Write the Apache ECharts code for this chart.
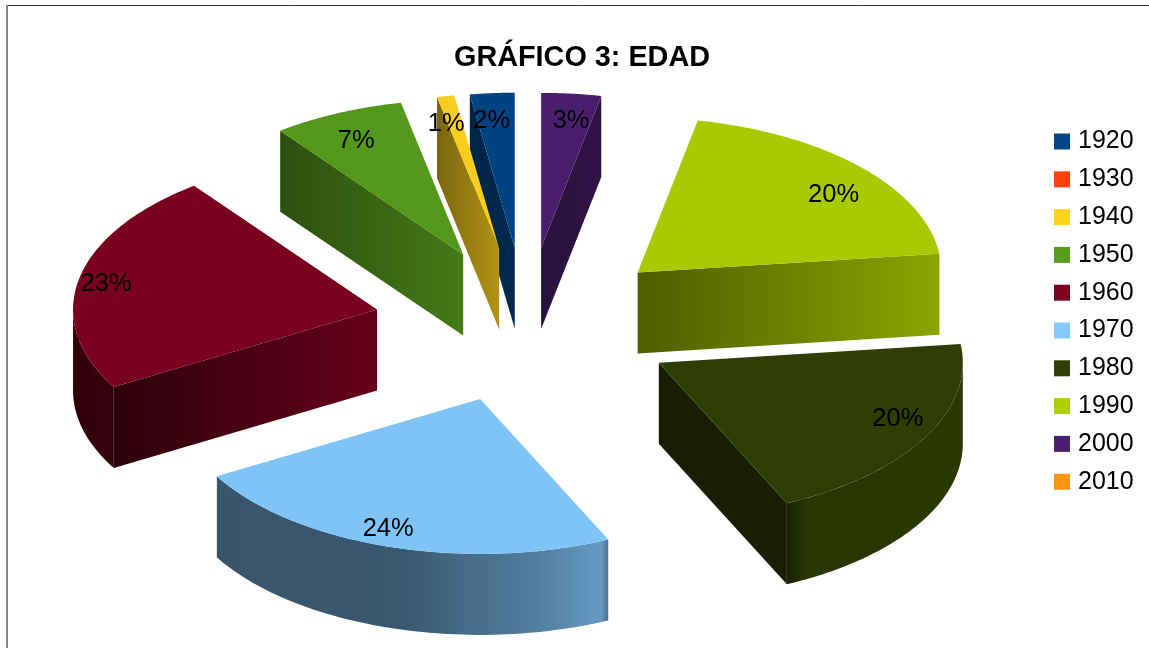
<!DOCTYPE html>
<html>
<head>
<meta charset="utf-8">
<style>
    html, body { margin: 0; padding: 0; background: #fff; }
    #chart { width: 1149px; height: 648px; }
</style>
<script src="https://cdn.jsdelivr.net/npm/echarts@6/dist/echarts.min.js"></script>
</head>
<body>
<div id="chart"></div>
<script>
var titleText = 'GRÁFICO 3: EDAD';
var decades = ['1920', '1930', '1940', '1950', '1960', '1970', '1980', '1990', '2000', '2010'];
var shares = [2.36, 0, 0.92, 7, 23.05, 23.59, 20, 19.91, 3.17, 0];
var colors = ['#004586', '#ff420e', '#ffd320', '#579d1c', '#7e0021', '#83caff', '#314004', '#aecf00', '#4b1f6f', '#ff950e'];

// pie geometry
var cx = 526, cy = 325, rx = 304, ry = 155, depth = 81, explode = 0.5;
var fontName = '"Liberation Sans", Arial, sans-serif';

// where each label sits relative to the tip of its slice
var labelOffset = [[-23, -126.5], null, [-53, -125], [-107, -113.5], [-271, -25.5], [-92, 130], [239, 56.5], [196, -77.5], [30, -127], null];
// brightness of the cut face, left and right end
var cutShade = [[0.52, 0.6], null, [0.48, 0.7], [0.5, 0.78], [0.35, 0.8], null, [0.47, 0.47], [0.45, 0.8], [0.55, 0.62], null];
// brightness of the rim by angle (degrees counterclockwise from 12 o'clock)
var rimShade = [[90, 0.36], [120, 0.42], [165, 0.44], [190, 0.62], [204.5, 0.78], [205, 0.5], [209, 0.86], [276, 0.88]];

var total = shares.reduce(function (a, b) { return a + b; }, 0);

function startOf(index) {
    var sum = 0;
    for (var i = 0; i < index; i++) sum += shares[i];
    return sum / total * 360;
}

function shade(hex, k) {
    var n = parseInt(hex.slice(1), 16);
    var r = Math.round((n >> 16 & 255) * k);
    var g = Math.round((n >> 8 & 255) * k);
    var b = Math.round((n & 255) * k);
    return 'rgb(' + r + ',' + g + ',' + b + ')';
}

function rimAt(deg) {
    for (var i = 1; i < rimShade.length; i++) {
        if (deg <= rimShade[i][0]) {
            var p = rimShade[i - 1], q = rimShade[i];
            var t = Math.max(0, (deg - p[0]) / (q[0] - p[0]));
            return p[1] + (q[1] - p[1]) * t;
        }
    }
    return rimShade[rimShade.length - 1][1];
}

function pointOn(apex, deg, scale) {
    var t = deg * Math.PI / 180;
    return [apex[0] - Math.sin(t) * rx * scale, apex[1] - Math.cos(t) * ry * scale];
}

function apexOf(start, end) {
    return pointOn([cx, cy], (start + end) / 2, explode);
}

function drop(p) {
    return [p[0], p[1] + depth];
}

function sideFace(top, fill) {
    var pts = top.concat(top.slice().reverse().map(drop));
    return { type: 'polygon', shape: { points: pts }, style: { fill: fill }, silent: true };
}

function cutFace(a, b, index) {
    var s = cutShade[index] || [0.5, 0.5];
    var fill = new echarts.graphic.LinearGradient(0, 0, 1, 0, [
        { offset: 0, color: shade(colors[index], s[0]) },
        { offset: 1, color: shade(colors[index], s[1]) }
    ]);
    return sideFace([a, b], fill);
}

function renderSlice(params, api) {
    var value = api.value(0);
    if (!value) return null;
    var index = params.seriesIndex;
    var start = startOf(index), end = start + value / total * 360;
    var apex = apexOf(start, end);
    var children = [];

    // the front part of the rim
    var from = Math.max(start, 90), to = Math.min(end, 270);
    if (to > from) {
        var rim = [], stops = [], steps = 60;
        for (var i = 0; i <= steps; i++) {
            rim.push(pointOn(apex, from + (to - from) * i / steps, 1));
        }
        var minX = Math.min.apply(null, rim.map(function (p) { return p[0]; }));
        var maxX = Math.max.apply(null, rim.map(function (p) { return p[0]; }));
        rim.forEach(function (p, i) {
            stops.push({
                offset: (p[0] - minX) / (maxX - minX),
                color: shade(colors[index], rimAt(from + (to - from) * i / steps))
            });
        });
        children.push(sideFace(rim, new echarts.graphic.LinearGradient(0, 0, 1, 0, stops)));
    }

    // cut faces that look towards the viewer
    var first = pointOn(apex, start, 1), last = pointOn(apex, end, 1);
    if (first[0] > apex[0]) children.push(cutFace(apex, first, index));
    if (last[0] < apex[0]) children.push(cutFace(last, apex, index));

    // top of the slice
    var top = [apex];
    for (var d = 0; d <= 60; d++) {
        top.push(pointOn(apex, start + (end - start) * d / 60, 1));
    }
    children.push({
        type: 'polygon',
        shape: { points: top },
        style: { fill: shade(colors[index], 0.97) },
        silent: true
    });

    return { type: 'group', children: children };
}

function renderLabel(params, api) {
    var index = api.value(0), value = api.value(1);
    if (!value) return null;
    var start = startOf(index), end = start + value / total * 360;
    var apex = apexOf(start, end);
    return {
        type: 'text',
        silent: true,
        style: {
            text: Math.round(value / total * 100) + '%',
            x: apex[0] + labelOffset[index][0],
            y: apex[1] + labelOffset[index][1],
            align: 'center',
            verticalAlign: 'middle',
            font: '25.5px ' + fontName,
            fill: '#000'
        }
    };
}

var series = decades.map(function (name, i) {
    return {
        type: 'custom',
        name: name,
        coordinateSystem: 'none',
        renderItem: renderSlice,
        itemStyle: { color: colors[i] },
        z: 2 + i,
        data: [[shares[i]]]
    };
});

series.push({
    type: 'custom',
    name: 'labels',
    coordinateSystem: 'none',
    renderItem: renderLabel,
    z: 30,
    data: shares.map(function (v, i) { return [i, v]; })
});

var chart = echarts.init(document.getElementById('chart'), null, { renderer: 'canvas' });

chart.setOption({
    animation: false,
    backgroundColor: '#fff',
    title: {
        text: titleText,
        left: 577,
        top: 38,
        textAlign: 'center',
        textStyle: { fontFamily: fontName, fontWeight: 'bold', fontSize: 28.8, color: '#000', lineHeight: 30 }
    },
    legend: {
        data: decades,
        orient: 'vertical',
        left: 1054,
        top: 129,
        padding: 0,
        icon: 'rect',
        itemWidth: 16,
        itemHeight: 16,
        itemGap: 12.8,
        selectedMode: false,
        textStyle: { fontFamily: fontName, fontSize: 25, color: '#000', padding: [0, 0, 0, 3] }
    },
    graphic: [
        { type: 'line', z: 100, shape: { x1: 6, y1: 5.5, x2: 1149, y2: 5.5 }, style: { stroke: '#333', lineWidth: 1 } },
        { type: 'line', z: 100, shape: { x1: 7, y1: 5, x2: 7, y2: 648 }, style: { stroke: '#888', lineWidth: 2 } }
    ],
    series: series
});
</script>
</body>
</html>
